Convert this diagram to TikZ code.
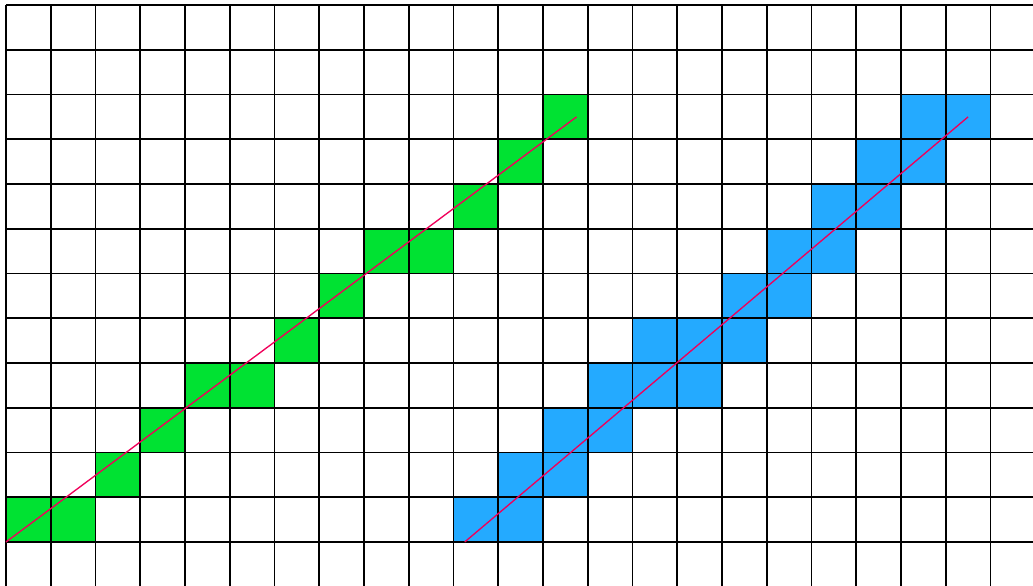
\documentclass[tikz,border=0pt]{standalone}
\usepackage{xcolor}
\definecolor{cellgreen}{RGB}{0,226,50}
\definecolor{cellblue}{RGB}{36,170,255}
\definecolor{lineRed}{RGB}{240,0,90}

\begin{document}
\begin{tikzpicture}
\useasboundingbox (-0.134,-0.961) rectangle (22.95,12.112);
\clip (-0.134,-0.961) rectangle (22.95,12.112);

% Rasterised cells of the first line (green)
\foreach \c/\r in {0/0,1/0,2/1,3/2,4/3,5/3,6/4,7/5,8/6,9/6,10/7,11/8,12/9}
  \fill[cellgreen] (\c,\r) rectangle ++(1,1);

% Rasterised cells of the second line (blue)
\foreach \c/\r in {10/0,11/0,11/1,12/1,12/2,13/2,13/3,14/3,15/3,14/4,15/4,16/4,
                   16/5,17/5,17/6,18/6,18/7,19/7,19/8,20/8,20/9,21/9}
  \fill[cellblue] (\c,\r) rectangle ++(1,1);

% Pixel grid
\draw[line width=0.04cm] (0,-1) grid (23,12);

% Ideal lines
\draw[lineRed,line width=0.03cm] (0,0) -- (12.75,9.5);
\draw[lineRed,line width=0.03cm] (10.25,0) -- (21.5,9.5);
\end{tikzpicture}
\end{document}
